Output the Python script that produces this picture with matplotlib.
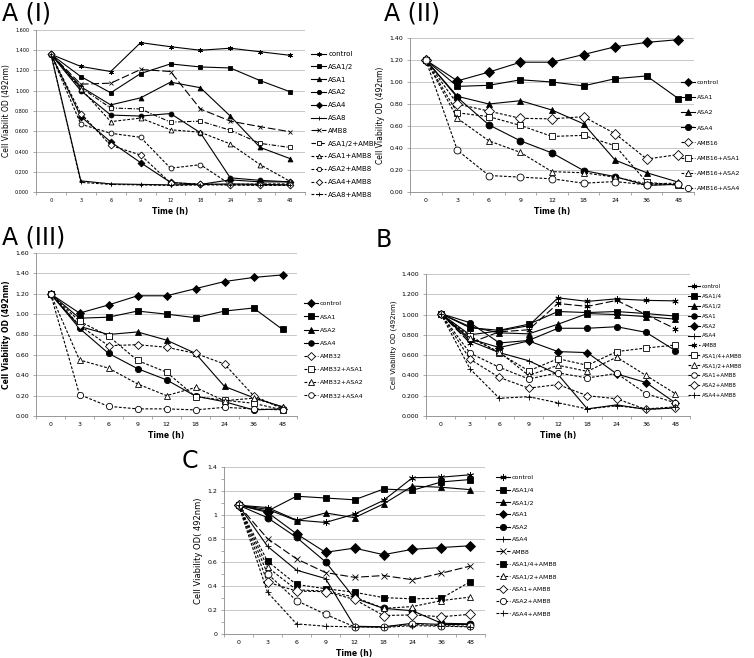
import numpy as np
import matplotlib
matplotlib.use('Agg')
import matplotlib.pyplot as plt
from matplotlib.ticker import FormatStrFormatter, FuncFormatter, MultipleLocator

time_labels = ['0', '3', '6', '9', '12', '18', '24', '36', '48']

# ---- A (I) ----
a1_names = ['control', 'ASA1/2', 'ASA1', 'ASA2', 'ASA4', 'ASA8', 'AMB8',
            'ASA1/2+AMBI', 'ASA1+AMB8', 'ASA2+AMB8', 'ASA4+AMB8', 'ASA8+AMB8']
a1_values = [
    [1.36, 1.24, 1.19, 1.475, 1.435, 1.40, 1.42, 1.385, 1.35],
    [1.36, 1.14, 0.98, 1.17, 1.265, 1.235, 1.225, 1.10, 0.99],
    [1.36, 1.04, 0.86, 0.93, 1.085, 1.03, 0.75, 0.44, 0.33],
    [1.36, 1.00, 0.76, 0.75, 0.775, 0.585, 0.14, 0.115, 0.10],
    [1.36, 0.745, 0.495, 0.29, 0.095, 0.075, 0.12, 0.10, 0.10],
    [1.36, 0.11, 0.08, 0.075, 0.07, 0.075, 0.08, 0.075, 0.07],
    [1.36, 1.065, 1.075, 1.21, 1.19, 0.82, 0.70, 0.645, 0.595],
    [1.36, 1.03, 0.83, 0.82, 0.69, 0.70, 0.61, 0.48, 0.44],
    [1.36, 1.02, 0.695, 0.73, 0.615, 0.59, 0.475, 0.27, 0.105],
    [1.36, 0.67, 0.58, 0.54, 0.235, 0.27, 0.075, 0.08, 0.08],
    [1.36, 0.775, 0.46, 0.365, 0.09, 0.08, 0.07, 0.07, 0.07],
    [1.36, 0.095, 0.075, 0.07, 0.065, 0.07, 0.07, 0.065, 0.065],
]
a1_marker = ['star', 's', '^', 'o', 'D', '+', 'x', 's', '^', 'o', 'D', '+']
a1_fill = ['k', 'k', 'k', 'k', 'k', 'k', 'k', 'w', 'w', 'w', 'w', 'k']
a1_line = ['solid', 'solid', 'solid', 'solid', 'solid', 'solid', 'long',
           'dashdot', 'dash', 'dash', 'dash', 'dash']

# ---- A (II) ----
a2_names = ['control', 'ASA1', 'ASA2', 'ASA4', 'AMB16',
            'AMB16+ASA1', 'AMB16+ASA2', 'AMB16+ASA4']
a2_values = [
    [1.20, 1.01, 1.09, 1.18, 1.18, 1.25, 1.32, 1.36, 1.385],
    [1.20, 0.96, 0.97, 1.02, 1.00, 0.965, 1.03, 1.055, 0.85],
    [1.20, 0.87, 0.80, 0.83, 0.745, 0.62, 0.29, 0.175, 0.09],
    [1.20, 0.86, 0.61, 0.465, 0.355, 0.195, 0.14, 0.06, 0.07],
    [1.20, 0.80, 0.735, 0.67, 0.665, 0.685, 0.53, 0.30, 0.34],
    [1.20, 0.72, 0.685, 0.605, 0.505, 0.515, 0.42, 0.09, 0.06],
    [1.20, 0.67, 0.465, 0.36, 0.185, 0.175, 0.135, 0.075, 0.08],
    [1.20, 0.38, 0.15, 0.135, 0.12, 0.08, 0.095, 0.065, 0.07],
]
a2_marker = ['D', 's', '^', 'o', 'D', 's', '^', 'o']
a2_fill = ['k', 'k', 'k', 'k', 'w', 'w', 'w', 'w']
a2_line = ['solid'] * 4 + ['dash'] * 4

# ---- A (III) ----
a3_names = ['control', 'ASA1', 'ASA2', 'ASA4', 'AMB32',
            'AMB32+ASA1', 'AMB32+ASA2', 'AMB32+ASA4']
a3_values = [
    [1.20, 1.01, 1.09, 1.18, 1.18, 1.25, 1.32, 1.36, 1.385],
    [1.20, 0.96, 0.97, 1.03, 1.00, 0.965, 1.03, 1.06, 0.85],
    [1.20, 0.88, 0.80, 0.825, 0.745, 0.615, 0.29, 0.18, 0.09],
    [1.20, 0.86, 0.615, 0.465, 0.355, 0.195, 0.14, 0.06, 0.07],
    [1.20, 0.89, 0.69, 0.70, 0.675, 0.615, 0.51, 0.20, 0.07],
    [1.20, 0.93, 0.785, 0.545, 0.43, 0.19, 0.155, 0.125, 0.06],
    [1.20, 0.55, 0.47, 0.315, 0.20, 0.28, 0.15, 0.175, 0.09],
    [1.20, 0.21, 0.095, 0.07, 0.07, 0.06, 0.085, 0.07, 0.06],
]
a3_marker = ['D', 's', '^', 'o', 'D', 's', '^', 'o']
a3_fill = ['k', 'k', 'k', 'k', 'w', 'w', 'w', 'w']
a3_line = ['solid'] * 4 + ['dash'] * 4

# ---- B ----
b_names = ['control', 'ASA1/4', 'ASA1/2', 'ASA1', 'ASA2', 'ASA4', 'AMB8',
           'ASA1/4+AMB8', 'ASA1/2+AMB8', 'ASA1+AMB8', 'ASA2+AMB8', 'ASA4+AMB8']
b_values = [
    [1.01, 0.80, 0.84, 0.89, 1.165, 1.13, 1.155, 1.14, 1.135],
    [1.01, 0.87, 0.845, 0.905, 1.03, 1.02, 1.03, 1.01, 0.985],
    [1.01, 0.88, 0.82, 0.81, 0.905, 1.01, 1.00, 0.98, 0.955],
    [1.01, 0.92, 0.72, 0.745, 0.865, 0.865, 0.88, 0.825, 0.645],
    [1.01, 0.76, 0.675, 0.74, 0.635, 0.625, 0.415, 0.33, 0.13],
    [1.01, 0.74, 0.625, 0.545, 0.41, 0.07, 0.11, 0.065, 0.08],
    [1.01, 0.72, 0.83, 0.85, 1.11, 1.08, 1.14, 1.00, 0.86],
    [1.01, 0.79, 0.62, 0.445, 0.565, 0.50, 0.635, 0.67, 0.70],
    [1.01, 0.77, 0.63, 0.40, 0.50, 0.44, 0.58, 0.40, 0.22],
    [1.01, 0.62, 0.48, 0.365, 0.425, 0.375, 0.42, 0.22, 0.13],
    [1.01, 0.56, 0.38, 0.275, 0.31, 0.20, 0.17, 0.065, 0.08],
    [1.01, 0.465, 0.175, 0.19, 0.13, 0.07, 0.10, 0.07, 0.09],
]
b_marker = ['star', 's', '^', 'o', 'D', '+', 'star', 's', '^', 'o', 'D', '+']
b_fill = ['k'] * 7 + ['w'] * 4 + ['k']
b_line = ['solid'] * 6 + ['long'] + ['dash'] * 5

# ---- C ----
c_names = ['control', 'ASA1/4', 'ASA1/2', 'ASA1', 'ASA2', 'ASA4', 'AMB8',
           'ASA1/4+AMB8', 'ASA1/2+AMB8', 'ASA1+AMB8', 'ASA2+AMB8', 'ASA4+AMB8']
c_values = [
    [1.08, 1.06, 0.955, 0.935, 1.005, 1.12, 1.31, 1.315, 1.335],
    [1.08, 1.03, 1.155, 1.14, 1.125, 1.215, 1.205, 1.275, 1.295],
    [1.08, 1.045, 0.95, 1.015, 0.975, 1.09, 1.24, 1.23, 1.21],
    [1.08, 1.02, 0.84, 0.685, 0.72, 0.665, 0.71, 0.725, 0.74],
    [1.08, 0.975, 0.81, 0.605, 0.30, 0.215, 0.195, 0.09, 0.085],
    [1.08, 0.735, 0.535, 0.465, 0.065, 0.06, 0.09, 0.08, 0.08],
    [1.08, 0.80, 0.63, 0.515, 0.475, 0.49, 0.455, 0.51, 0.57],
    [1.08, 0.61, 0.415, 0.38, 0.35, 0.305, 0.295, 0.30, 0.44],
    [1.08, 0.56, 0.37, 0.36, 0.31, 0.215, 0.23, 0.28, 0.31],
    [1.08, 0.435, 0.36, 0.355, 0.29, 0.155, 0.16, 0.145, 0.165],
    [1.08, 0.505, 0.28, 0.165, 0.06, 0.06, 0.08, 0.07, 0.065],
    [1.08, 0.35, 0.085, 0.065, 0.06, 0.055, 0.07, 0.065, 0.06],
]
c_marker = ['star', 's', '^', 'D', 'o', '+', 'x', 's', '^', 'D', 'o', '+']
c_fill = ['k'] * 8 + ['w'] * 3 + ['k']
c_line = ['solid'] * 6 + ['long'] + ['dash'] * 5

MARKERS = {'star': (6, 2, 0), 's': 's', '^': '^', 'o': 'o', 'D': 'D',
           '+': '+', 'x': 'x'}
LINES = {'solid': '-', 'dash': (0, (2.5, 1.5)), 'long': (0, (7, 2.5)),
         'dashdot': (0, (4, 1.5, 1, 1.5))}

W, H = 754, 658
fig = plt.figure(figsize=(W / 100, H / 100), dpi=100)


def px_rect(left, top, right, bottom):
    return [left / W, 1 - bottom / H, (right - left) / W, (bottom - top) / H]


def panel(rect, names, values, markers, fills, lines, ymax, ystep, yfmt,
          ylabel, ms, tick_fs, leg_xy, leg_fs, leg_sp, ylab_bold=False,
          minor_y=None, ylab_fs=5.5):
    ax = fig.add_axes(px_rect(*rect))
    x = np.arange(len(time_labels))
    for name, vals, m, f, ls in zip(names, values, markers, fills, lines):
        ax.plot(x, vals, color='black', lw=0.8, linestyle=LINES[ls],
                marker=MARKERS[m], ms=ms, mfc=f, mec='black', mew=0.6,
                label=name, clip_on=False)
    ax.set_xlim(-0.5, len(time_labels) - 0.5)
    ax.set_ylim(0, ymax)
    ax.set_xticks(x)
    ax.set_xticklabels(time_labels)
    ax.set_xticks(np.arange(-0.5, len(time_labels)), minor=True)
    ax.tick_params(axis='x', which='major', length=0, labelsize=tick_fs, pad=4)
    ax.tick_params(axis='x', which='minor', length=2, width=0.5, color='#888888')
    ax.yaxis.set_major_locator(MultipleLocator(ystep))
    ax.yaxis.set_major_formatter(yfmt)
    if minor_y:
        ax.yaxis.set_minor_locator(MultipleLocator(minor_y))
    ax.tick_params(axis='y', which='both', length=2, width=0.5,
                   color='#888888', labelsize=tick_fs, pad=3)
    ax.yaxis.grid(True, color='#bfbfbf', lw=0.6)
    ax.set_axisbelow(True)
    for s in ['top', 'right']:
        ax.spines[s].set_visible(False)
    for s in ['left', 'bottom']:
        ax.spines[s].set_color('#888888')
        ax.spines[s].set_linewidth(0.6)
    ax.set_xlabel('Time (h)', fontsize=5.5, fontweight='bold', labelpad=3)
    ax.set_ylabel(ylabel, fontsize=ylab_fs,
                  fontweight='bold' if ylab_bold else 'normal', labelpad=3)
    ax.legend(loc='upper left', bbox_to_anchor=(leg_xy[0] / W, 1 - leg_xy[1] / H),
              bbox_transform=fig.transFigure, frameon=False, fontsize=leg_fs,
              labelspacing=leg_sp, handlelength=2.2, handletextpad=0.3,
              borderpad=0, borderaxespad=0, markerscale=0.9)
    return ax


panel((36, 30, 305, 192), a1_names, a1_values, a1_marker, a1_fill, a1_line,
      1.6, 0.2, FormatStrFormatter('%.3f'), 'Cell Viabilit OD (492nm)',
      3.5, 3.5, (311, 51), 5, 0.98)
panel((410, 38, 694, 192), a2_names, a2_values, a2_marker, a2_fill, a2_line,
      1.4, 0.2, FormatStrFormatter('%.2f'), 'Cell Viability OD (492nm)',
      5, 4.5, (681, 80), 4.5, 1.55)
panel((36, 253, 297, 416), a3_names, a3_values, a3_marker, a3_fill, a3_line,
      1.6, 0.2, FormatStrFormatter('%.2f'), 'Cell Viability OD (492nm)',
      4.5, 4.5, (304, 301), 4.5, 1.25, ylab_bold=True)
panel((426, 274, 690, 416), b_names, b_values, b_marker, b_fill, b_line,
      1.4, 0.2, FormatStrFormatter('%.3f'), 'Cell Viability OD (492nm)',
      4.5, 4.5, (688, 284), 4, 0.88, ylab_fs=5)
panel((224, 467, 485, 634), c_names, c_values, c_marker, c_fill, c_line,
      1.4, 0.2, FuncFormatter(lambda v, p: '%g' % round(v, 2)),
      'Cell Viability OD( 492nm)', 5, 4.5, (496, 475), 4.5, 1.12,
      minor_y=0.1, ylab_fs=6)

# panel letters
fig.text(2 / W, 1 - 14 / H, 'A (I)', fontsize=17, va='center', ha='left')
fig.text(384 / W, 1 - 14 / H, 'A (II)', fontsize=17, va='center', ha='left')
fig.text(2 / W, 1 - 238 / H, 'A (III)', fontsize=17, va='center', ha='left')
fig.text(376 / W, 1 - 240 / H, 'B', fontsize=17, va='center', ha='left')
fig.text(182 / W, 1 - 461 / H, 'C', fontsize=17, va='center', ha='left')

fig.savefig('out.png', dpi=100)
